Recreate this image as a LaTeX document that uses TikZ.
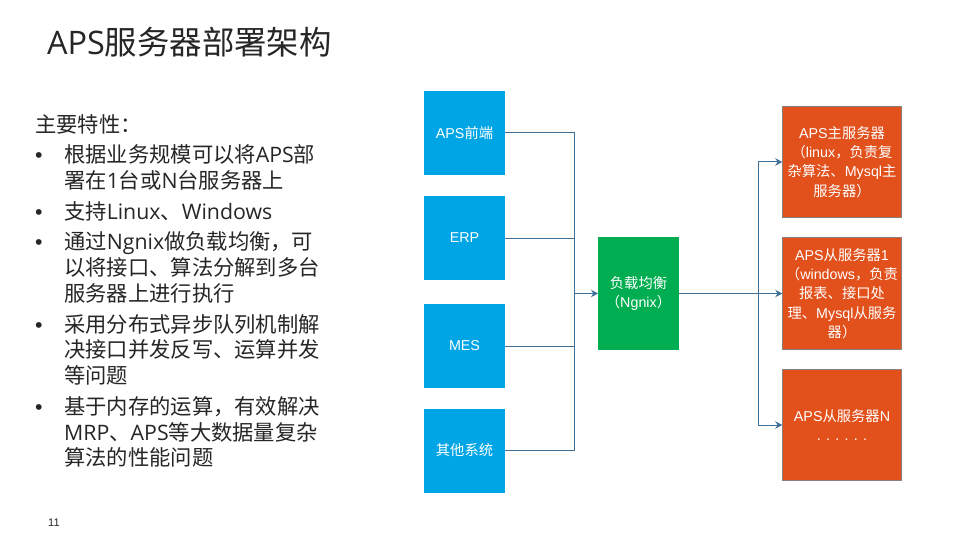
\documentclass[tikz,border=0pt]{standalone}
\usepackage{xcolor}
\usepackage{fontspec}
\usepackage{tikz}
\usetikzlibrary{positioning}
\usetikzlibrary{arrows.meta}

\setmainfont{Noto Sans CJK SC}
\newfontfamily\leftlat{Open Sans}
\newfontfamily\boxlat{Liberation Sans}
\newcommand{\lftl}[1]{{\leftlat #1}}
\newcommand{\boxl}[1]{{\boxlat #1}}

\definecolor{srcblue}{HTML}{00A5E6}
\definecolor{lbgreen}{HTML}{00AD50}
\definecolor{srvred}{HTML}{E2501C}
\definecolor{srvedge}{HTML}{8A7F7C}
\definecolor{linkblue}{HTML}{3F7097}
\definecolor{bodytext}{HTML}{262626}

\tikzset{
	box/.style={outer sep=0pt,inner sep=0pt,align=center,text=white,font=\fontsize{14.3}{19.2}\selectfont},
	srcbox/.style={box,fill=srcblue,minimum width=81pt,minimum height=84pt},
	lbbox/.style={box,fill=lbgreen,minimum width=81pt,minimum height=113pt},
	srvbox/.style={box,fill=srvred,draw=srvedge,line width=0.8pt,minimum width=119.5pt,minimum height=111.5pt},
	link/.style={draw=linkblue,line width=1pt},
	tip/.style={-{Stealth[length=7pt,width=7.5pt]}},
	line/.style={anchor=base west,inner sep=0pt,text=bodytext,font=\fontsize{21.3}{26}\selectfont}
}

\begin{document}
\begin{tikzpicture}[x=1pt,y=1pt]
	\useasboundingbox[fill=white] (0,0) rectangle (960,-540);

	\node[anchor=base west,inner sep=0pt,text=bodytext,font=\fontsize{32.4}{38}\selectfont] (title) at (47,-55) {{\leftlat APS}服务器部署架构};
	\node[anchor=base west,inner sep=0pt,text=bodytext,font=\fontsize{11}{12}\selectfont] (page) at (48,-526) {\boxl{11}};

	% left column
	\node[line] (head) at (35,-133) {主要特性：};
	\foreach \n/\y/\x/\txt in {
		l1/163/64/{根据业务规模可以将\lftl{APS}部},
		l2/189/64/{署在\lftl{1}台或\lftl{N}台服务器上},
		l3/219/64/{支持\lftl{Linux}、\lftl{Windows}},
		l4/249/64/{通过\lftl{Ngnix}做负载均衡，可},
		l5/275/64/{以将接口、算法分解到多台},
		l6/301/64/{服务器上进行执行},
		l7/332/64/{采用分布式异步队列机制解},
		l8/357/64/{决接口并发反写、运算并发},
		l9/383/64/{等问题},
		l10/414/64/{基于内存的运算，有效解决},
		l11/440/64/{\lftl{MRP}、\lftl{APS}等大数据量复杂},
		l12/465/64/{算法的性能问题}
	}{
		\node[line] (\n) at (\x,-\y) {\txt};
	}
	\foreach \n/\y in {b1/163,b3/219,b4/249,b7/332,b10/414}{
		\node[line] (\n) at (35,-\y) {\boxl{•}};
	}

	% sources
	\node[srcbox] (aps) at (464.5,-133) {\boxl{APS}前端};
	\node[srcbox] (erp) [below = 21pt of aps] {\boxl{ERP}};
	\node[srcbox] (mes) [below = 24pt of erp] {\boxl{MES}};
	\node[srcbox] (other) [below = 20.5pt of mes] {其他系统};

	\node[lbbox] (lb) at (638.5,-293.5) {负载均衡\\（\boxl{Ngnix}）};

	% servers
	\node[srvbox] (master) at (842,-162) {\boxl{APS}主服务器\\（\boxl{linux}，负责复\\杂算法、\boxl{Mysql}主\\服务器）};
	\node[srvbox] (slave) [below = 20pt of master] {\boxl{APS}从服务器\boxl{1}\\（\boxl{windows}，负责\\报表、接口处\\理、\boxl{Mysql}从服务\\器）};
	\node[srvbox] (slaven) [below = 20pt of slave] {\boxl{APS}从服务器\boxl{N}\\\boxl{. . . . . .}};

	\coordinate (injoin) at (574,-293.5);
	\coordinate (outjoin) at (758,-293.5);

	\draw[link] (aps) -| (injoin);
	\draw[link] (erp) -| (injoin);
	\draw[link] (mes) -| (injoin);
	\draw[link] (other) -| (injoin);
	\draw[link,tip] (injoin) -- (lb);

	\draw[link] (lb) -- (outjoin);
	\draw[link,tip] (outjoin) |- (master);
	\draw[link,tip] (outjoin) -- (slave);
	\draw[link,tip] (outjoin) |- (slaven);
\end{tikzpicture}
\end{document}
